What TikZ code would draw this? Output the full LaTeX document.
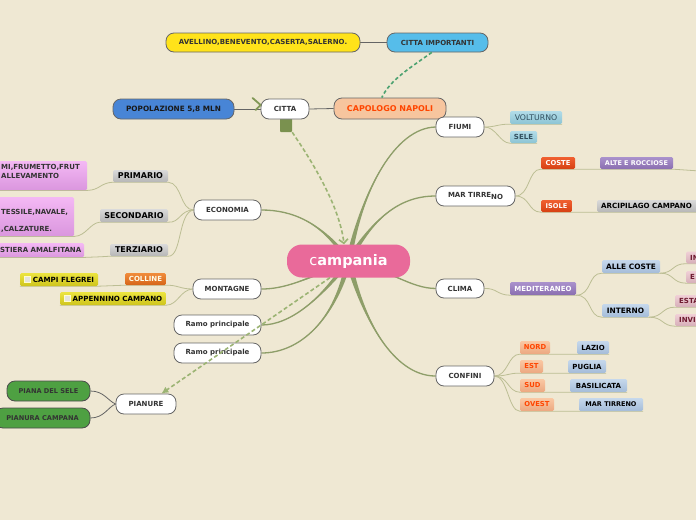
\documentclass[tikz,border=0pt]{standalone}
\usepackage{fontspec}
\setmainfont{DejaVu Sans}
\usetikzlibrary{arrows.meta,calc,backgrounds}
\definecolor{bgc}{RGB}{239,232,211}
\definecolor{branchc}{RGB}{142,158,105}
\definecolor{subc}{RGB}{188,190,148}
\definecolor{grayl}{RGB}{100,100,100}
\definecolor{txt}{RGB}{51,51,51}
\definecolor{pinkc}{RGB}{233,106,154}
\definecolor{peach}{RGB}{247,197,158}
\definecolor{orred}{RGB}{255,69,0}
\definecolor{sky}{RGB}{86,189,234}
\definecolor{yel}{RGB}{255,227,26}
\definecolor{popblue}{RGB}{72,133,214}
\definecolor{barg}{RGB}{122,145,79}
\definecolor{dashg}{RGB}{156,180,116}
\definecolor{dashgg}{RGB}{76,162,112}
\definecolor{plaing}{RGB}{78,160,66}
\definecolor{maroon}{RGB}{110,26,48}
\definecolor{tealt}{RGB}{50,80,95}
\definecolor{gtop}{RGB}{218,218,218}\definecolor{gbot}{RGB}{182,182,182}
\definecolor{ptop}{RGB}{244,184,244}\definecolor{pbot}{RGB}{218,150,222}
\definecolor{ytop}{RGB}{236,228,64}\definecolor{ybot}{RGB}{206,196,28}
\definecolor{otop}{RGB}{240,140,60}\definecolor{obot}{RGB}{214,100,24}
\definecolor{ctop}{RGB}{178,220,232}\definecolor{cbot}{RGB}{140,196,212}
\definecolor{rtop}{RGB}{240,96,48}\definecolor{rbot}{RGB}{214,64,18}
\definecolor{vtop}{RGB}{170,146,204}\definecolor{vbot}{RGB}{138,110,176}
\definecolor{btop}{RGB}{198,216,236}\definecolor{bbot}{RGB}{164,188,216}
\definecolor{rstop}{RGB}{240,208,214}\definecolor{rsbot}{RGB}{214,174,184}
\definecolor{salt}{RGB}{250,200,164}\definecolor{salb}{RGB}{236,168,128}
\definecolor{checkc}{RGB}{228,228,220}
\newcommand\fsz[1]{\fontsize{#1}{#1}\selectfont}
\newcommand\branchto[5]{%
  \fill[branchc] ($(#1)+#2$) .. controls #3 and #4 .. (#5) .. controls #4 and #3 .. ($(#1)-#2$) -- cycle;
  \draw[branchc, line width=1.3pt] (#1) .. controls #3 and #4 .. (#5);
}
\begin{document}
\begin{tikzpicture}[x=1pt,y=-1pt,
  wn/.style={draw=black!60, fill=white, line width=0.8pt, rounded corners=8pt, inner sep=0pt, font=\bfseries\fsz{7}, text=txt},
  lab/.style={inner sep=0pt, rounded corners=1.5pt, font=\bfseries\fsz{7}, text=txt},
  wh/.style 2 args={minimum width=#1pt, minimum height=#2pt},
  sh/.style 2 args={top color=#1, bottom color=#2},
  graybx/.style={sh={gtop}{gbot}, text=black, font=\bfseries\fsz{8}},
  pinkbx/.style={sh={ptop}{pbot}},
  ylwbx/.style={sh={ytop}{ybot}, text=black, font=\bfseries\fsz{7.1}},
  orngbx/.style={sh={otop}{obot}, text=white!92!yellow},
  cyanbx/.style={sh={ctop}{cbot}, text=tealt},
  redbx/.style={sh={rtop}{rbot}, text=white},
  purpbx/.style={sh={vtop}{vbot}, text=white},
  bluebx/.style={sh={btop}{bbot}, text=black},
  rosebx/.style={sh={rstop}{rsbot}, text=maroon},
  salmbx/.style={sh={salt}{salb}, text=orred, font=\bfseries\fsz{6.8}},
  leaftxt/.style={inner sep=0pt, align=left, text=txt, font=\bfseries\fsz{7}},
  sub/.style={draw=subc, line width=0.8pt},
  gline/.style={draw=grayl, line width=0.8pt},
  dashl/.style={draw=dashg, line width=1.6pt, dash pattern=on 4pt off 2.5pt},
]
\useasboundingbox (0,0) rectangle (696,520);

% central node
\node[fill=pinkc, rounded corners=15pt, wh={123}{33}, inner sep=0pt, text=white, font=\bfseries\fsz{14.5}] (campania) at (348.5,261) {{\mdseries c}ampania};

% top group
\node[fill=barg, rounded corners=1pt, wh={12}{14}, inner sep=0pt] (cittabar) at (286,125) {};
\node[wn, wh={48}{20}] (citta) at (285,109) {CITTA};
\node[wn, wh={112}{21}, fill=peach, text=orred, font=\bfseries\fsz{8}] (capologo) at (390,108.5) {CAPOLOGO NAPOLI};
\node[wn, wh={101}{19}, fill=sky] (cittaimp) at (437.5,42.5) {CITTA IMPORTANTI};
\node[wn, wh={194}{19}, fill=yel] (avellino) at (263,42.5) {AVELLINO,BENEVENTO,CASERTA,SALERNO.};
\node[wn, wh={121}{20}, fill=popblue, text=black!90, font=\bfseries\fsz{7.3}] (popolazione) at (173.5,109) {POPOLAZIONE 5,8 MLN};

% main branches nodes
\node[wn, wh={48}{20}] (fiumi) at (460,127) {FIUMI};
\node[wn, wh={79}{20}] (mart) at (475.5,196) {MAR TIRRE\raisebox{-2.5pt}{NO}};
\node[wn, wh={48}{19}] (clima) at (460,288.5) {CLIMA};
\node[wn, wh={58}{20}] (confini) at (465,376) {CONFINI};
\node[wn, wh={67}{20}] (economia) at (227.5,210) {ECONOMIA};
\node[wn, wh={68}{20}] (montagne) at (227,289) {MONTAGNE};
\node[wn, wh={87}{20}] (ramoa) at (217.5,325) {Ramo principale};
\node[wn, wh={87}{20}] (ramob) at (217.5,353) {Ramo principale};
\node[wn, wh={60}{20}] (pianure) at (146,404) {PIANURE};

% ECONOMIA children
\node[lab, graybx, wh={55}{12}] (primario) at (140.5,176) {PRIMARIO};
\node[lab, graybx, wh={68}{13}] (secondario) at (134,215.5) {SECONDARIO};
\node[lab, graybx, wh={58}{12}] (terziario) at (139,250) {TERZIARIO};
\node[lab, pinkbx, anchor=north west, wh={90}{29}] (leafa) at (-3,161) {};
\node[leaftxt, anchor=north west, font=\bfseries\fontsize{7}{9}\selectfont] (leafat) at (1,164.5) {MI,FRUMETTO,FRUT\\ALLEVAMENTO};
\node[lab, pinkbx, anchor=north west, wh={77}{39}] (leafb) at (-3,197) {};
\node[leaftxt, anchor=north west, font=\bfseries\fontsize{7}{17}\selectfont] (leafbt) at (1,209.5) {TESSILE,NAVALE,\\,CALZATURE.};
\node[lab, pinkbx, anchor=north west, wh={87}{14}] (leafc) at (-3,243) {};
\node[leaftxt, anchor=west] (leafct) at (0,250) {STIERA AMALFITANA};

% MONTAGNE children
\node[lab, ylwbx, wh={78}{13}] (campi) at (59,279.5) {\hspace{9pt}CAMPI FLEGREI};
\node[lab, orngbx, wh={41}{12}] (colline) at (145.5,279) {COLLINE};
\node[lab, ylwbx, wh={106}{13}] (appennino) at (113,298.5) {\hspace{9pt}APPENNINO CAMPANO};
\fill[checkc, draw=white!80!yellow, line width=0.4pt] ($(campi.west)+(4,-3)$) rectangle ++(6,6);
\fill[checkc, draw=white!80!yellow, line width=0.4pt] ($(appennino.west)+(4,-3)$) rectangle ++(6,6);

% PIANURE children
\node[wn, fill=plaing, draw=black!70, wh={83}{20}, font=\bfseries\fsz{6.6}] (pianasele) at (48.5,391) {PIANA DEL SELE};
\node[wn, fill=plaing, draw=black!70, wh={95}{20}, font=\bfseries\fsz{6.6}] (pianuracamp) at (42.5,418) {PIANURA CAMPANA};

% FIUMI children
\node[lab, cyanbx, wh={52}{13}, font=\fsz{7.8}] (volturno) at (536,117.5) {VOLTURNO};
\node[lab, cyanbx, wh={27}{12}] (sele) at (523.5,137) {SELE};

% MAR TIRRENO children
\node[lab, redbx, wh={34}{12}, font=\bfseries\fsz{6.8}] (coste) at (558,163) {COSTE};
\node[lab, purpbx, wh={73}{12}, font=\bfseries\fsz{6.5}] (alte) at (636.5,163) {ALTE E ROCCIOSE};
\node[lab, redbx, wh={31}{12}, font=\bfseries\fsz{6.6}] (isole) at (556.5,206) {ISOLE};
\node[lab, graybx, anchor=west, wh={120}{12}, text width=112pt, inner xsep=4pt, align=left, font=\bfseries\fsz{7.1}] (arcip) at (597,206) {ARCIPILAGO CAMPANO};
\coordinate (alteend) at (700,171);

% CLIMA children
\node[lab, purpbx, wh={66}{13}] (medit) at (543,288.5) {MEDITERANEO};
\node[lab, bluebx, wh={58}{13}, font=\bfseries\fsz{7.4}] (allecoste) at (631,266.5) {ALLE COSTE};
\node[lab, bluebx, wh={47}{13}, font=\bfseries\fsz{7.4}] (interno) at (625.5,310.5) {INTERNO};
\node[lab, rosebx, anchor=west, wh={40}{12}, text width=32pt, inner xsep=4pt, align=left] (ina) at (686,257.5) {IN};
\node[lab, rosebx, anchor=west, wh={40}{12}, text width=32pt, inner xsep=4pt, align=left] (ea) at (686,277) {E};
\node[lab, rosebx, anchor=west, wh={40}{12}, text width=32pt, inner xsep=4pt, align=left] (esta) at (675,301) {ESTA};
\node[lab, rosebx, anchor=west, wh={40}{12}, text width=32pt, inner xsep=4pt, align=left] (invi) at (675,320) {INVI};

% CONFINI children
\node[lab, salmbx, wh={30}{13}] (nord) at (535,347.5) {NORD};
\node[lab, salmbx, wh={23}{13}] (est) at (531.5,366.5) {EST};
\node[lab, salmbx, wh={25}{13}] (sud) at (532.5,385.5) {SUD};
\node[lab, salmbx, wh={34}{13}] (ovest) at (537,404.5) {OVEST};
\node[lab, bluebx, wh={32}{13}] (lazio) at (593,347.5) {LAZIO};
\node[lab, bluebx, wh={38}{13}] (puglia) at (587,366.5) {PUGLIA};
\node[lab, bluebx, wh={57}{13}] (basilicata) at (598.5,385.5) {BASILICATA};
\node[lab, bluebx, wh={64}{13}, font=\bfseries\fsz{6.5}] (martirr) at (611,404.5) {MAR TIRRENO};

\begin{scope}[on background layer]
  \fill[bgc] (0,0) rectangle (696,520);
  % thick tapered branches
  \branchto{campania.center}{(3,0)}{(362,190)}{(395,128)}{fiumi.west}
  \branchto{campania.center}{(2.5,1.5)}{(375,215)}{(402,196)}{mart.west}
  \branchto{campania.center}{(0,3)}{(395,272)}{(410,288)}{clima.west}
  \branchto{campania.center}{(3,-0.8)}{(366,330)}{(398,376)}{confini.west}
  \branchto{campania.center}{(2.5,-1.7)}{(322,222)}{(292,210)}{economia.east}
  \branchto{campania.center}{(1.2,2.7)}{(305,280)}{(285,289)}{montagne.east}
  \branchto{campania.center}{(2.4,1.7)}{(320,300)}{(290,325)}{ramoa.east}
  \branchto{campania.center}{(3,0.7)}{(335,320)}{(300,353)}{ramob.east}
  % grey links
  \draw[gline] (popolazione.east) -- (citta.west);
  \draw[gline] (citta.east) -- (capologo.west);
  \draw[gline] (avellino.east) -- (cittaimp.west);
  \draw[gline] (pianure.west) .. controls (108,401) and (104,391) .. (pianasele.east);
  \draw[gline] (pianure.west) .. controls (108,407) and (104,418) .. (pianuracamp.east);
  % ECONOMIA sub-lines
  \draw[sub] (economia.west) .. controls (180,210) and (182,183) .. (primario.south east) -- (primario.south west) .. controls (100,183) and (100,190) .. (leafa.south east) -- (leafa.south west);
  \draw[sub] (economia.west) .. controls (180,210) and (180,223) .. (secondario.south east) -- (secondario.south west) .. controls (90,223) and (86,236) .. (leafb.south east) -- (leafb.south west);
  \draw[sub] (economia.west) .. controls (178,212) and (182,257) .. (terziario.south east) -- (terziario.south west) .. controls (98,257) and (94,257) .. (leafc.south east) -- (leafc.south west);
  % MONTAGNE sub-lines
  \draw[sub] (montagne.west) .. controls (180,289) and (178,285) .. (colline.south east) -- (colline.south west) -- (campi.south east) -- (campi.south west);
  \draw[sub] (montagne.west) .. controls (180,290) and (178,305) .. (appennino.south east) -- (appennino.south west);
  % FIUMI
  \draw[sub] (fiumi.east) .. controls (496,127) and (498,124) .. (volturno.south west) -- (volturno.south east);
  \draw[sub] (fiumi.east) .. controls (496,127) and (500,143) .. (sele.south west) -- (sele.south east);
  % MAR TIRRENO
  \draw[sub] (mart.east) .. controls (530,196) and (528,169) .. (coste.south west) -- (coste.south east) -- (alte.south west) -- (alte.south east) -- (alteend);
  \draw[sub] (mart.east) .. controls (530,196) and (528,212) .. (isole.south west) -- (isole.south east) -- (arcip.south west) -- (arcip.south east);
  % CLIMA
  \draw[sub] (clima.east) .. controls (497,288) and (497,295) .. (medit.south west) -- (medit.south east);
  \draw[sub] (medit.south east) .. controls (592,295) and (588,273) .. (allecoste.south west) -- (allecoste.south east);
  \draw[sub] (medit.south east) .. controls (592,295) and (588,317) .. (interno.south west) -- (interno.south east);
  \draw[sub] (allecoste.south east) .. controls (674,273) and (672,263.5) .. (ina.south west) -- (ina.south east);
  \draw[sub] (allecoste.south east) .. controls (674,273) and (672,283) .. (ea.south west) -- (ea.south east);
  \draw[sub] (interno.south east) .. controls (663,317) and (662,307) .. (esta.south west) -- (esta.south east);
  \draw[sub] (interno.south east) .. controls (663,317) and (662,326) .. (invi.south west) -- (invi.south east);
  % CONFINI
  \draw[sub] (confini.east) .. controls (508,376) and (508,354) .. (nord.south west) -- (nord.south east) -- (lazio.south west) -- (lazio.south east);
  \draw[sub] (confini.east) .. controls (508,376) and (508,373) .. (est.south west) -- (est.south east) -- (puglia.south west) -- (puglia.south east);
  \draw[sub] (confini.east) .. controls (508,376) and (508,392) .. (sud.south west) -- (sud.south east) -- (basilicata.south west) -- (basilicata.south east);
  \draw[sub] (confini.east) .. controls (508,376) and (508,411) .. (ovest.south west) -- (ovest.south east) -- (martirr.south west) -- (martirr.south east);
\end{scope}

% dashed links (on top)
\draw[dashl, -{Straight Barb[length=4pt,width=9pt]}] (cittabar.south east) .. controls (318,170) and (340,210) .. (campania.105);
\draw[dashl, -{Latex[length=7pt,width=7pt]}] (campania.222) -- (pianure.34);
\draw[draw=dashgg, line width=1.6pt, dash pattern=on 3.5pt off 2.5pt] (cittaimp.240) .. controls (410,68) and (390,80) .. (capologo.127);
% chevron at CITTA
\draw[draw=barg!80!dashg, line width=1.8pt, line cap=round, line join=round] ($(citta.west)+(-8,-11)$) -- ($(citta.west)+(0,-4)$) -- ($(citta.west)+(-5,1)$);
\end{tikzpicture}
\end{document}
